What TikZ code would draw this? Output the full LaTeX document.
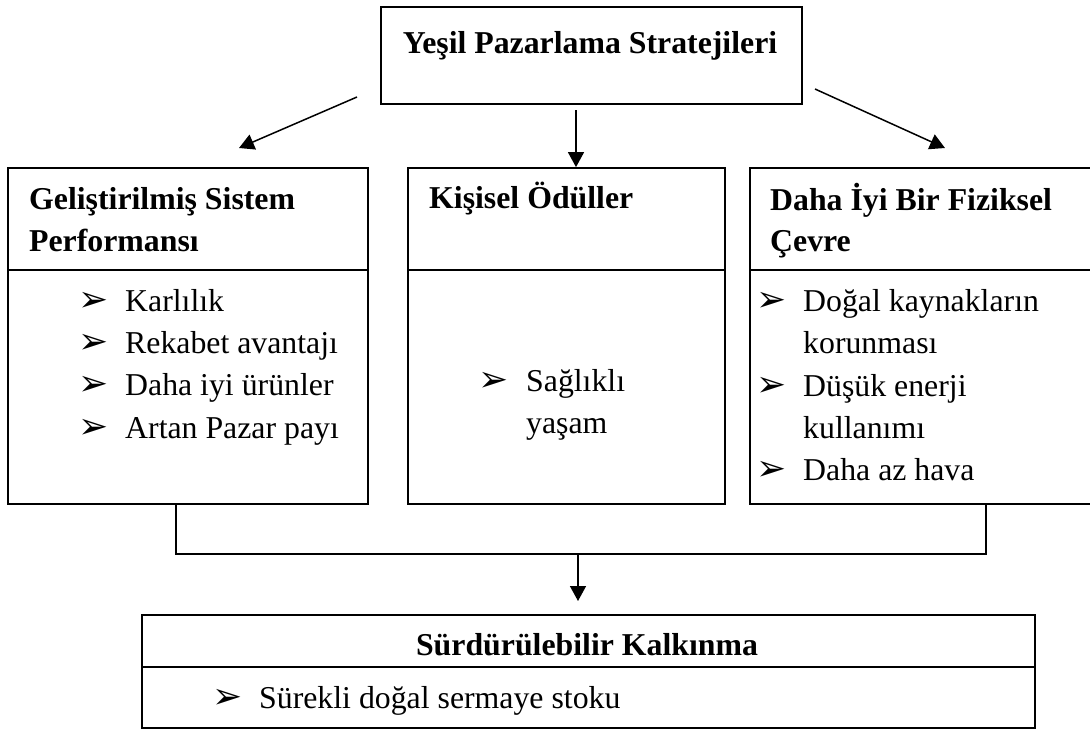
\documentclass[tikz,border=0pt]{standalone}
\usepackage{fontspec}
\setmainfont{Liberation Serif}
\newfontfamily\bulfont{DejaVu Sans}
\usetikzlibrary{arrows.meta}
\tikzset{
  box/.style={draw, line width=1.8pt, inner sep=0pt},
  sep/.style={line width=1.8pt},
  conn/.style={line width=1.5pt},
  arr/.style={line width=1.5pt, -{Triangle[length=15pt,width=16pt]}},
  txt/.style={anchor=base west, inner sep=0pt, font=\fontsize{31.8}{42}\selectfont},
  hd/.style={anchor=base west, inner sep=0pt, font=\fontsize{31.8}{42}\selectfont\bfseries},
  hdc/.style={anchor=base, inner sep=0pt, font=\fontsize{31.8}{42}\selectfont\bfseries},
  bul/.style={anchor=base west, inner sep=0pt, font=\bulfont\fontsize{36}{36}\selectfont},
}
\begin{document}
\begin{tikzpicture}[x=1pt,y=-1pt]
\useasboundingbox (0,0) rectangle (1090,729);
\clip (0,0) rectangle (1090,729);
% boxes
\node[box, minimum width=421pt, minimum height=97pt] (top) at (591.5,55.5) {};
\node[box, minimum width=360pt, minimum height=336pt] (lb) at (188,336) {};
\node[box, minimum width=317pt, minimum height=336pt] (mb) at (566.5,336) {};
\node[box, minimum width=345pt, minimum height=336pt] (rb) at (922.5,336) {};
\node[box, minimum width=893pt, minimum height=113pt] (bb) at (588.5,671.5) {};
% separators
\draw[sep] (lb.west |- 0,270) -- (lb.east |- 0,270);
\draw[sep] (mb.west |- 0,270) -- (mb.east |- 0,270);
\draw[sep] (rb.west |- 0,270) -- (rb.east |- 0,270);
\draw[sep] (bb.west |- 0,667) -- (bb.east |- 0,667);
% title
\node[hdc] (t1) at (590,53) {Yeşil Pazarlama Stratejileri};
% left box
\node[hd] (lh1) at (29,209) {Geliştirilmiş Sistem};
\node[hd] (lh2) at (29,251) {Performansı};
\node[bul] (lb1) at (78,311) {➢};
\node[txt] (li1) at (125,311) {Karlılık};
\node[bul] (lb2) at (78,353) {➢};
\node[txt] (li2) at (125,353) {Rekabet avantajı};
\node[bul] (lb3) at (78,395) {➢};
\node[txt] (li3) at (125,395) {Daha iyi ürünler};
\node[bul] (lb4) at (78,438) {➢};
\node[txt] (li4) at (125,438) {Artan Pazar payı};
% middle box
\node[hd] (mh1) at (429,208) {Kişisel Ödüller};
\node[bul] (mb1) at (478,391) {➢};
\node[txt] (mi1) at (526,391) {Sağlıklı};
\node[txt] (mi2) at (526,433) {yaşam};
% right box
\node[hd] (rh1) at (770,210) {Daha İyi Bir Fiziksel};
\node[hd] (rh2) at (770,251) {Çevre};
\node[bul] (rb1) at (756,311) {➢};
\node[txt] (ri1) at (803,311) {Doğal kaynakların};
\node[txt] (ri2) at (803,353) {korunması};
\node[bul] (rb2) at (756,396) {➢};
\node[txt] (ri3) at (803,396) {Düşük enerji};
\node[txt] (ri4) at (803,438) {kullanımı};
\node[bul] (rb3) at (756,480) {➢};
\node[txt] (ri5) at (803,480) {Daha az hava};
% bottom box
\node[hdc] (bh) at (587,655) {Sürdürülebilir Kalkınma};
\node[bul] (bb1) at (212,708) {➢};
\node[txt] (bi1) at (259,708) {Sürekli doğal sermaye stoku};
% top arrows
\coordinate (als) at (357,97);
\coordinate (ale) at (239,148);
\coordinate (ars) at (815,89);
\coordinate (are) at (945,148);
\coordinate (ams) at (576,110);
\draw[arr] (als) -- (ale);
\draw[arr] (ars) -- (are);
\draw[arr] (ams) -- (ams |- mb.north);
% bottom bracket
\coordinate (jl) at (176,554);
\coordinate (jr) at (986,554);
\coordinate (ja) at (578,553);
\coordinate (jt) at (578,601);
\draw[conn] (jl |- lb.south) -- (jl) -- (jr) -- (jr |- rb.south);
\draw[arr] (ja) -- (jt);
\end{tikzpicture}
\end{document}
